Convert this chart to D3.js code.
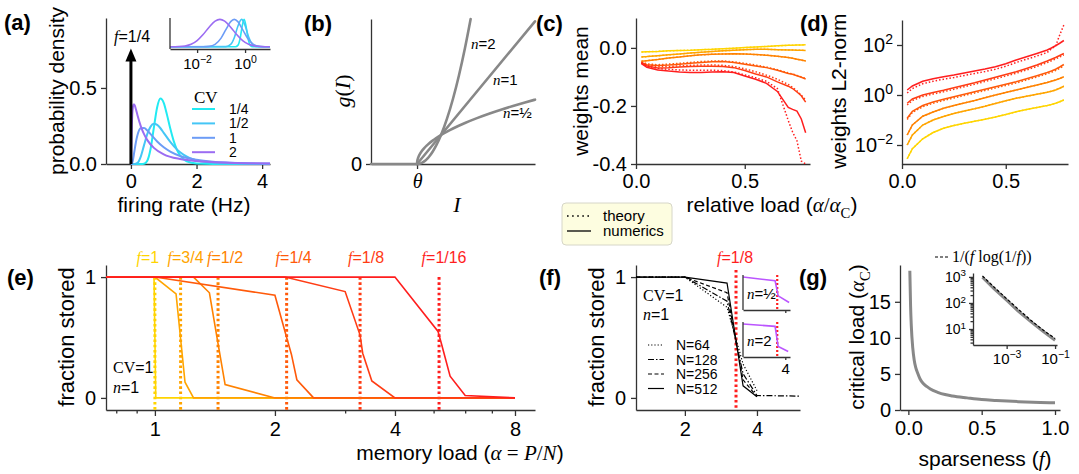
<!DOCTYPE html>
<html>
<head>
<meta charset="utf-8">
<script src="https://cdn.jsdelivr.net/npm/d3@7"></script>
<style>
body { margin: 0; background: #fff; }
svg { font-family: "Liberation Sans", Arial, Helvetica, sans-serif; }
</style>
</head>
<body>
<svg id="fig" width="1079" height="474"></svg>
<script>
var SANS = '"Liberation Sans", Arial, sans-serif',
    SERIF = '"Liberation Serif", "DejaVu Serif", serif';
var TICK = 20, LABEL = 21;

// ---- data ----
// (a) firing-rate densities, f=1/4, for CV = 1/4, 1/2, 1, 2
var cvLabels = ["1/4", "1/2", "1", "2"];
var cvColors = ["#22eaf2", "#45c6f6", "#6c9cf6", "#9b6cf2"];
var densQuarter = [[0,0],[0.3,0],[0.4,0.002],[0.5,0.022],[0.6,0.100],[0.7,0.240],[0.8,0.373],[0.9,0.430],[1.0,0.402],[1.1,0.323],[1.2,0.233],[1.3,0.154],[1.4,0.095],[1.5,0.056],[1.7,0.018],[2.0,0.003],[2.5,0],[4.24,0]];
var densHalf = [[0,0],[0.1,0],[0.2,0.007],[0.3,0.049],[0.4,0.124],[0.5,0.198],[0.6,0.246],[0.7,0.264],[0.8,0.257],[0.9,0.235],[1.0,0.205],[1.2,0.145],[1.4,0.096],[1.6,0.062],[1.8,0.039],[2.0,0.025],[2.5,0.008],[3.0,0.003],[4.0,0],[4.24,0]];
var densOne = [[0,0],[0.02,0.001],[0.05,0.015],[0.1,0.076],[0.15,0.141],[0.2,0.190],[0.3,0.235],[0.4,0.237],[0.5,0.220],[0.6,0.196],[0.8,0.148],[1.0,0.110],[1.2,0.082],[1.5,0.053],[2.0,0.028],[2.5,0.015],[3.0,0.009],[3.5,0.005],[4.24,0.003]];
var densTwo = [[0,0],[0.002,0.004],[0.005,0.030],[0.01,0.089],[0.02,0.196],[0.04,0.322],[0.06,0.374],[0.08,0.392],[0.1,0.392],[0.15,0.362],[0.2,0.321],[0.3,0.249],[0.4,0.196],[0.5,0.157],[0.7,0.106],[1.0,0.064],[1.5,0.033],[2.0,0.020],[3.0,0.009],[4.24,0.004]];
var deltaMass = 0.76; // arrow height for the mass at zero
// inset: log10(rate) vs scaled density
var insetQuarter = [[-3.13,0],[-0.4,0.004],[-0.3,0.052],[-0.2,0.326],[-0.12,0.756],[-0.04,1],[0.04,0.756],[0.12,0.326],[0.22,0.052],[0.32,0.004],[0.45,0],[1.04,0]];
var insetHalf = [[-3.13,0],[-0.8,0.006],[-0.6,0.086],[-0.45,0.331],[-0.3,0.752],[-0.145,1],[0,0.779],[0.15,0.356],[0.3,0.095],[0.45,0.015],[0.65,0.001],[1.04,0]];
var insetOne = [[-3.13,0],[-1.75,0.002],[-1.5,0.015],[-1.25,0.087],[-1.0,0.315],[-0.8,0.626],[-0.6,0.918],[-0.45,1],[-0.3,0.918],[-0.1,0.626],[0.1,0.315],[0.35,0.087],[0.6,0.015],[0.85,0.002],[1.04,0]];
var insetTwo = [[-3.13,0.001],[-2.75,0.009],[-2.5,0.031],[-2.25,0.093],[-2.0,0.226],[-1.75,0.446],[-1.5,0.716],[-1.25,0.936],[-1.05,1],[-0.85,0.936],[-0.6,0.716],[-0.35,0.446],[-0.1,0.226],[0.15,0.093],[0.4,0.031],[0.65,0.009],[1.04,0.001]];

// (b) transfer functions above threshold (input relative to theta)
var gFlat = [[-1.92,0],[0,0]];
var gLinear = [[0,0],[4.92,4.92]];
var gSquare = [[0,0],[0.1,0.01],[0.2,0.04],[0.3,0.09],[0.4,0.16],[0.5,0.25],[0.65,0.4225],[0.8,0.64],[1,1],[1.25,1.5625],[1.5,2.25],[1.75,3.0625],[2,4],[2.236,5]];
var gRoot = [[0,0],[0.01,0.1],[0.03,0.173],[0.06,0.245],[0.1,0.316],[0.15,0.387],[0.2,0.447],[0.3,0.548],[0.4,0.632],[0.5,0.707],[0.65,0.806],[0.8,0.894],[1,1],[1.25,1.118],[1.5,1.225],[2,1.414],[2.5,1.581],[3,1.732],[3.5,1.871],[4,2],[4.5,2.121],[4.92,2.218]];

// (c),(d) weights vs relative load, six sparseness levels
var fLabels = ["1", "3/4", "1/2", "1/4", "1/8", "1/16"];
var fColors = ["#ffd400", "#ffa500", "#ff8200", "#ff5a0a", "#ff3c14", "#ff1e1e"];
var relLoad = [0.025,0.05,0.1,0.15,0.2,0.25,0.3,0.35,0.4,0.45,0.5,0.55,0.6,0.65,0.7,0.72,0.74,0.76,0.78];
var meanF1   = [-0.014,-0.013,-0.012,-0.010,-0.009,-0.008,-0.006,-0.005,-0.003,-0.001,0.001,0.003,0.005,0.007,0.009,0.009,0.010,0.010,0.011];
var meanF34  = [-0.031,-0.030,-0.027,-0.024,-0.021,-0.018,-0.015,-0.012,-0.010,-0.008,-0.006,-0.005,-0.005,-0.006,-0.007,-0.007,-0.008,-0.008,-0.009];
var meanF12  = [-0.046,-0.044,-0.040,-0.035,-0.031,-0.027,-0.024,-0.022,-0.021,-0.020,-0.021,-0.023,-0.025,-0.029,-0.033,-0.036,-0.039,-0.042,-0.045];
var meanF14  = [-0.050,-0.058,-0.061,-0.059,-0.056,-0.053,-0.050,-0.048,-0.047,-0.050,-0.056,-0.062,-0.068,-0.077,-0.088,-0.091,-0.096,-0.101,-0.107];
var meanF18  = [-0.052,-0.062,-0.069,-0.068,-0.066,-0.064,-0.063,-0.063,-0.064,-0.068,-0.078,-0.090,-0.100,-0.117,-0.132,-0.140,-0.152,-0.165,-0.187];
var meanF116 = [-0.054,-0.067,-0.076,-0.080,-0.083,-0.085,-0.085,-0.083,-0.082,-0.085,-0.097,-0.108,-0.122,-0.150,-0.205,-0.212,-0.218,-0.245,-0.292];
var meanTh14  = [-0.048,-0.055,-0.058,-0.056,-0.053,-0.050,-0.047,-0.045,-0.045,-0.048,-0.053,-0.059,-0.066,-0.075,-0.086,-0.090,-0.095,-0.100,-0.106];
var meanTh18  = [-0.050,-0.059,-0.064,-0.064,-0.062,-0.060,-0.059,-0.059,-0.060,-0.064,-0.072,-0.082,-0.094,-0.108,-0.126,-0.136,-0.148,-0.163,-0.180];
var meanTh116 = [-0.052,-0.063,-0.071,-0.074,-0.076,-0.077,-0.077,-0.077,-0.078,-0.083,-0.093,-0.103,-0.115,-0.140,-0.250,-0.290,-0.320,-0.390,-0.400];
// log10 of L2 norm
var normF1   = [-2.55,-2.15,-1.75,-1.50,-1.33,-1.22,-1.13,-1.05,-0.97,-0.88,-0.78,-0.67,-0.58,-0.50,-0.42,-0.38,-0.33,-0.27,-0.20];
var normF34  = [-2.00,-1.60,-1.20,-1.00,-0.86,-0.74,-0.64,-0.55,-0.45,-0.34,-0.23,-0.13,-0.05,0.03,0.11,0.15,0.20,0.27,0.35];
var normF12  = [-1.60,-1.20,-0.85,-0.68,-0.53,-0.42,-0.32,-0.22,-0.11,0.00,0.10,0.20,0.30,0.40,0.50,0.55,0.60,0.66,0.73];
var normF14  = [-0.93,-0.65,-0.42,-0.28,-0.17,-0.07,0.03,0.13,0.23,0.33,0.43,0.53,0.65,0.77,0.90,0.96,1.03,1.12,1.22];
var normF18  = [-0.33,-0.16,0.00,0.10,0.19,0.29,0.39,0.49,0.60,0.71,0.82,0.93,1.06,1.20,1.36,1.43,1.50,1.58,1.66];
var normF116 = [0.20,0.36,0.55,0.65,0.73,0.80,0.88,0.96,1.04,1.13,1.25,1.40,1.53,1.66,1.80,1.88,1.97,2.07,2.18];
var normTh14  = [-0.98,-0.70,-0.47,-0.33,-0.22,-0.12,-0.02,0.08,0.18,0.28,0.38,0.48,0.60,0.72,0.85,0.91,0.98,1.07,1.17];
var normTh18  = [-0.40,-0.22,-0.06,0.04,0.13,0.23,0.33,0.43,0.54,0.65,0.76,0.87,1.00,1.14,1.30,1.37,1.44,1.52,1.60];
var normTh116 = [0.08,0.26,0.45,0.55,0.63,0.70,0.78,0.86,0.94,1.03,1.15,1.30,1.43,1.56,1.70,1.85,1.95,2.40,2.80];

// (e) fraction stored vs memory load
var storedF1   = [[0.754,1],[0.995,1],[1.005,0],[8,0]];
var storedF34  = [[0.754,1],[1.0,1],[1.13,0.86],[1.19,0.13],[1.25,0],[8,0]];
var storedF12  = [[0.754,1],[1.25,1],[1.37,0.87],[1.44,0.45],[1.5,0.11],[2.0,0],[8,0]];
var storedF14  = [[0.754,1],[1.0,1],[2.0,0.85],[2.14,0.5],[2.2,0.36],[2.27,0.15],[2.5,0],[8,0]];
var storedF18  = [[0.754,1],[2.12,1],[3.0,0.88],[3.27,0.52],[3.32,0.37],[3.5,0.14],[4.0,0],[8,0]];
var storedF116 = [[0.754,1],[4.0,1],[5.13,0.55],[5.24,0.44],[5.5,0.18],[6.0,0.02],[8,0]];
var alphaCrit = [1.0, 1.16, 1.44, 2.14, 3.27, 5.16];
var fLabelShift = [-7, 5, 7, 7, 6, 5];

// (f) network size, f = 1/8
var nLabels = ["N=64", "N=128", "N=256", "N=512"];
var storedN64  = [[1.25,1],[2,1],[3,0.75],[3.5,0.28],[4,0.06]];
var storedN128 = [[1.25,1],[2,1],[3,0.8],[3.5,0.2],[4,0.02],[6.05,0.015]];
var storedN256 = [[1.25,1],[2,1],[3,0.87],[3.5,0.15],[4,0.01]];
var storedN512 = [[1.25,1],[2,1],[3,0.95],[3.5,0.1],[4,0.01]];
var storedRoot   = [[1.39,1],[3.1,0.87],[3.35,0.35],[4.4,0.12]];
var storedSquare = [[1.39,1],[3.1,0.92],[3.35,0.22],[4.3,0.05]];

// (g) critical load vs sparseness
var sparseness = [0.01,0.015,0.02,0.03,0.04,0.05,0.0625,0.08,0.1,0.125,0.15,0.2,0.25,0.3,0.4,0.5,0.6,0.75,0.9,1.0];
var critLoad   = [19.3,14.5,11.7,8.6,6.9,5.9,5.16,4.3,3.7,3.27,2.9,2.45,2.14,1.95,1.68,1.44,1.32,1.16,1.05,1.0];
var sparseLog   = [1e-4,3e-4,1e-3,3e-3,1e-2,3e-2,1e-1];
var critLoadLog = [970,355,128,48.5,19.3,8.6,3.7];
var scalingLog  = [1086,410,145,58,21.7,9.5,4.34];

// ---- helpers ----
var svg = d3.select("#fig");

function rich(g, x, y, parts, opt) {
    opt = opt || {};
    var size = opt.size || LABEL;
    var t = g.append("text").attr("x", x).attr("y", y)
        .attr("text-anchor", opt.anchor || "start")
        .attr("fill", opt.color || "#000")
        .style("font-size", size + "px");
    if (opt.rotate) t.attr("transform", "rotate(-90," + x + "," + y + ")");
    var shift = 0;
    parts.forEach(function(p) {
        var s = t.append("tspan").text(p[0]);
        var k = p[1] || "";
        if (k.indexOf("i") >= 0) s.style("font-family", SERIF).style("font-style", "italic");
        if (k.indexOf("r") >= 0) s.style("font-family", SERIF);
        var want = k.indexOf("_") >= 0 ? 0.3 * size : (k.indexOf("^") >= 0 ? -0.45 * size : 0);
        if (want !== shift) { s.attr("dy", want - shift); shift = want; }
        if (want !== 0) s.style("font-size", (size * 0.7) + "px");
    });
    return t;
}

function styleAxis(g, size) {
    g.attr("font-family", null).attr("font-size", null);
    g.select(".domain").attr("stroke", "#333").attr("stroke-width", 1.3);
    g.selectAll(".tick line").attr("stroke", "#333").attr("stroke-width", 1.3);
    g.selectAll(".tick text").attr("fill", "#000")
        .style("font-size", (size || TICK) + "px").style("font-family", SANS);
}

function powLabels(g, size) {
    g.selectAll(".tick text").each(function(d) {
        var t = d3.select(this), e = Math.round(Math.log10(d));
        t.text(null);
        t.append("tspan").text("10");
        t.append("tspan").attr("dy", "-0.55em").style("font-size", (size * 0.7) + "px")
            .text(e < 0 ? "\u2212" + (-e) : e);
    });
}

function spine(g, x1, y1, x2, y2) {
    g.append("line").attr("x1", x1).attr("y1", y1).attr("x2", x2).attr("y2", y2)
        .attr("stroke", "#333").attr("stroke-width", 1.3);
}

var fmtInt = d3.format("d"), fmt1 = d3.format(".1f");

// panel letters
[["(a)", 4, 30], ["(b)", 304, 31], ["(c)", 536, 31], ["(d)", 800, 31],
 ["(e)", 7, 285], ["(f)", 539, 285], ["(g)", 799, 285]].forEach(function(p) {
    svg.append("text").attr("x", p[1]).attr("y", p[2]).style("font-size", "22px")
        .style("font-weight", "bold").text(p[0]);
});

// ---- (a) ----
var gA = svg.append("g");
var xA = d3.scaleLinear().domain([-0.76, 4.24]).range([106, 270]);
var yA = d3.scaleLinear().domain([0, 0.96]).range([164, 18]);
gA.append("g").attr("transform", "translate(0,164)")
    .call(d3.axisBottom(xA).tickValues([0, 2, 4]).tickFormat(fmtInt).tickSize(5).tickPadding(5).tickSizeOuter(0))
    .call(styleAxis);
gA.append("g").attr("transform", "translate(106,0)")
    .call(d3.axisLeft(yA).tickValues([0, 0.5]).tickFormat(fmt1).tickSize(5).tickPadding(4).tickSizeOuter(0))
    .call(styleAxis);
var lineA = d3.line().x(function(d) { return xA(d[0]); }).y(function(d) { return yA(d[1]); }).curve(d3.curveMonotoneX);
[densQuarter, densHalf, densOne, densTwo].forEach(function(s, i) {
    gA.append("path").attr("d", lineA(s)).attr("fill", "none")
        .attr("stroke", cvColors[i]).attr("stroke-width", 2);
});
gA.append("line").attr("x1", xA(0)).attr("x2", xA(0)).attr("y1", yA(0)).attr("y2", yA(deltaMass) + 12)
    .attr("stroke", "#000").attr("stroke-width", 3);
gA.append("path").attr("fill", "#000")
    .attr("d", "M" + (xA(0) - 5.5) + "," + (yA(deltaMass) + 13) + "L" + xA(0) + "," + yA(deltaMass) +
        "L" + (xA(0) + 5.5) + "," + (yA(deltaMass) + 13) + "Z");
rich(gA, 114, 42, [["f", "i"], ["=1/4"]], { size: 16 });
rich(gA, 64, 91, [["probability density"]], { rotate: true, anchor: "middle" });
rich(gA, 184, 212, [["firing rate (Hz)"]], { anchor: "middle" });
// legend
rich(gA, 194, 103, [["CV", "r"]], { size: 17 });
cvLabels.forEach(function(l, i) {
    var yy = 109 + i * 14.4;
    gA.append("line").attr("x1", 192).attr("x2", 215).attr("y1", yy).attr("y2", yy)
        .attr("stroke", cvColors[i]).attr("stroke-width", 2);
    gA.append("text").attr("x", 229).attr("y", yy + 5).style("font-size", "14px").text(l);
});
// inset
var xAi = d3.scaleLog().domain([Math.pow(10, -3.13), Math.pow(10, 1.04)]).range([170, 270]);
var yAi = d3.scaleLinear().domain([-0.08, 1.05]).range([49, 18]);
var lineAi = d3.line().x(function(d) { return xAi(Math.pow(10, d[0])); }).y(function(d) { return yAi(d[1]); }).curve(d3.curveMonotoneX);
[insetQuarter, insetHalf, insetOne, insetTwo].forEach(function(s, i) {
    gA.append("path").attr("d", lineAi(s)).attr("fill", "none")
        .attr("stroke", cvColors[i]).attr("stroke-width", 1.6);
});
gA.append("g").attr("transform", "translate(0,49)")
    .call(d3.axisBottom(xAi).tickValues([0.01, 1]).tickSize(4).tickPadding(5).tickSizeOuter(0))
    .call(styleAxis, 15).call(powLabels, 15);
spine(gA, 170, 18, 170, 49);

// ---- (b) ----
var gB = svg.append("g");
var xB = d3.scaleLinear().domain([-1.92, 4.92]).range([371, 535]);
var yB = d3.scaleLinear().domain([0, 5]).range([164, 19]);
var lineB = d3.line().x(function(d) { return xB(d[0]); }).y(function(d) { return yB(d[1]); }).curve(d3.curveMonotoneX);
gB.append("g").attr("transform", "translate(0,164)")
    .call(d3.axisBottom(xB).tickValues([0]).tickFormat(function() { return "\u03b8"; }).tickSize(5).tickPadding(5).tickSizeOuter(0))
    .call(styleAxis).selectAll(".tick text").style("font-family", SERIF).style("font-style", "italic");
gB.append("g").attr("transform", "translate(371,0)")
    .call(d3.axisLeft(yB).tickValues([0]).tickFormat(fmtInt).tickSize(5).tickPadding(4).tickSizeOuter(0))
    .call(styleAxis);
[gFlat, gRoot, gLinear, gSquare].forEach(function(s) {
    gB.append("path").attr("d", lineB(s)).attr("fill", "none")
        .attr("stroke", "#888").attr("stroke-width", 2.6).attr("stroke-linecap", "round");
});
rich(gB, 471, 49, [["n", "i"], ["=2"]], { size: 15 });
rich(gB, 493, 85, [["n", "i"], ["=1"]], { size: 15 });
rich(gB, 503, 118, [["n", "i"], ["=\u00bd"]], { size: 15 });
rich(gB, 350, 91, [["g", "i"], ["(", "r"], ["I", "i"], [")", "r"]], { rotate: true, anchor: "middle", size: 22 });
rich(gB, 457, 212, [["I", "i"]], { anchor: "middle", size: 22 });

// ---- (c) ----
var gC = svg.append("g");
var xC = d3.scaleLinear().domain([0, 0.8]).range([636, 810]);
var yC = d3.scaleLinear().domain([-0.4, 0.103]).range([164, 18]);
gC.append("g").attr("transform", "translate(0,164)")
    .call(d3.axisBottom(xC).tickValues([0, 0.5]).tickFormat(fmt1).tickSize(5).tickPadding(5).tickSizeOuter(0))
    .call(styleAxis);
gC.append("g").attr("transform", "translate(636,0)")
    .call(d3.axisLeft(yC).tickValues([0, -0.2, -0.4]).tickFormat(function(d) { return d.toFixed(1); }).tickSize(5).tickPadding(4).tickSizeOuter(0))
    .call(styleAxis);
var lineC = d3.line().x(function(d, i) { return xC(relLoad[i]); }).y(function(d) { return yC(d); });
var meanNum = [meanF1, meanF34, meanF12, meanF14, meanF18, meanF116];
var meanTh = [meanF1, meanF34, meanF12, meanTh14, meanTh18, meanTh116];
meanNum.forEach(function(s, i) {
    gC.append("path").attr("d", lineC(s)).attr("fill", "none").attr("stroke", fColors[i]).attr("stroke-width", 1.5);
    gC.append("path").attr("d", lineC(meanTh[i])).attr("fill", "none").attr("stroke", fColors[i])
        .attr("stroke-width", 1.5).attr("stroke-dasharray", "1.5,2");
});
rich(gC, 588, 91, [["weights mean"]], { rotate: true, anchor: "middle" });
rich(gC, 772, 212, [["relative load ("], ["\u03b1", "i"], ["/", "r"], ["\u03b1", "i"], ["C", "r_"], [")"]], { anchor: "middle" });

// legend theory / numerics
var gL = svg.append("g");
gL.append("rect").attr("x", 562).attr("y", 203).attr("width", 110).attr("height", 42).attr("rx", 4)
    .attr("fill", "#fdfde0").attr("stroke", "#d6d6c8");
gL.append("line").attr("x1", 567).attr("x2", 591).attr("y1", 216).attr("y2", 216)
    .attr("stroke", "#000").attr("stroke-width", 1.6).attr("stroke-dasharray", "1.6,3.5");
gL.append("line").attr("x1", 567).attr("x2", 591).attr("y1", 231).attr("y2", 231)
    .attr("stroke", "#000").attr("stroke-width", 1.3);
gL.append("text").attr("x", 603).attr("y", 221).style("font-size", "15px").text("theory");
gL.append("text").attr("x", 603).attr("y", 236).style("font-size", "15px").text("numerics");

// ---- (d) ----
var gD = svg.append("g");
var xD = d3.scaleLinear().domain([0, 0.8]).range([902, 1068]);
var yD = d3.scaleLog().domain([Math.pow(10, -2.76), 1000]).range([164, 20]);
gD.append("g").attr("transform", "translate(0,164)")
    .call(d3.axisBottom(xD).tickValues([0, 0.5]).tickFormat(fmt1).tickSize(5).tickPadding(5).tickSizeOuter(0))
    .call(styleAxis);
gD.append("g").attr("transform", "translate(902,0)")
    .call(d3.axisLeft(yD).tickValues([0.01, 1, 100]).tickSize(5).tickPadding(4).tickSizeOuter(0))
    .call(styleAxis).call(powLabels, TICK);
var lineD = d3.line().x(function(d, i) { return xD(relLoad[i]); }).y(function(d) { return yD(Math.pow(10, d)); });
var normNum = [normF1, normF34, normF12, normF14, normF18, normF116];
var normTh = [normF1, normF34, normF12, normTh14, normTh18, normTh116];
normNum.forEach(function(s, i) {
    gD.append("path").attr("d", lineD(s)).attr("fill", "none").attr("stroke", fColors[i]).attr("stroke-width", 1.5);
    gD.append("path").attr("d", lineD(normTh[i])).attr("fill", "none").attr("stroke", fColors[i])
        .attr("stroke-width", 1.5).attr("stroke-dasharray", "1.5,2");
});
rich(gD, 846, 91, [["weights L2-norm"]], { rotate: true, anchor: "middle" });

// ---- (e) ----
var gE = svg.append("g");
var xE = d3.scaleLog().base(2).domain([0.754, 8.98]).range([106, 535]);
var yE = d3.scaleLinear().domain([-0.1, 1.1]).range([410, 265]);
gE.append("g").attr("transform", "translate(0,410)")
    .call(d3.axisBottom(xE).tickValues([1, 2, 4, 8]).tickFormat(fmtInt).tickSize(6).tickPadding(6).tickSizeOuter(0))
    .call(styleAxis);
gE.append("g").attr("transform", "translate(0,410)")
    .call(d3.axisBottom(xE).tickValues([0.8, 0.9, 3, 5, 6, 7]).tickFormat("").tickSize(3.5).tickSizeOuter(0))
    .call(styleAxis).select(".domain").remove();
gE.append("g").attr("transform", "translate(106,0)")
    .call(d3.axisLeft(yE).tickValues([0, 1]).tickFormat(fmtInt).tickSize(5).tickPadding(5).tickSizeOuter(0))
    .call(styleAxis);
alphaCrit.forEach(function(a, i) {
    gE.append("line").attr("x1", xE(a)).attr("x2", xE(a)).attr("y1", yE(1)).attr("y2", yE(-0.1))
        .attr("stroke", fColors[i]).attr("stroke-width", 3).attr("stroke-dasharray", "2.6,2.6");
    rich(gE, xE(a) + fLabelShift[i], 263, [["f", "i"], ["=" + fLabels[i]]], { anchor: "middle", size: 16, color: fColors[i] });
});
var lineE = d3.line().x(function(d) { return xE(d[0]); }).y(function(d) { return yE(d[1]); });
[storedF1, storedF34, storedF12, storedF14, storedF18, storedF116].forEach(function(s, i) {
    gE.append("path").attr("d", lineE(s)).attr("fill", "none").attr("stroke", fColors[i]).attr("stroke-width", 1.6);
});
rich(gE, 113, 373, [["CV", "r"], ["=1"]], { size: 16 });
rich(gE, 113, 393, [["n", "i"], ["=1"]], { size: 16 });
rich(gE, 74, 337, [["fraction stored"]], { rotate: true, anchor: "middle", size: 22 });
rich(gE, 460, 460, [["memory load ("], ["\u03b1", "i"], [" = ", "r"], ["P", "i"], ["/", "r"], ["N", "i"], [")"]], { anchor: "middle" });

// ---- (f) ----
var gF = svg.append("g");
var xF = d3.scaleLog().base(2).domain([1.25, 6.05]).range([636, 800]);
var yF = d3.scaleLinear().domain([-0.1, 1.1]).range([410, 265]);
gF.append("g").attr("transform", "translate(0,410)")
    .call(d3.axisBottom(xF).tickValues([2, 4]).tickFormat(fmtInt).tickSize(6).tickPadding(6).tickSizeOuter(0))
    .call(styleAxis);
gF.append("g").attr("transform", "translate(636,0)")
    .call(d3.axisLeft(yF).tickValues([0, 1]).tickFormat(fmtInt).tickSize(5).tickPadding(5).tickSizeOuter(0))
    .call(styleAxis);
gF.append("line").attr("x1", xF(alphaCrit[4])).attr("x2", xF(alphaCrit[4])).attr("y1", 270).attr("y2", 410)
    .attr("stroke", "#ff1e1e").attr("stroke-width", 3).attr("stroke-dasharray", "2.6,2.6");
rich(gF, xF(alphaCrit[4]) - 1, 263, [["f", "i"], ["=1/8"]], { anchor: "middle", size: 16, color: "#ff1e1e" });
var nDash = ["1.2,2", "6,2,1.5,2", "4,2.5", null];
var lineF = d3.line().x(function(d) { return xF(d[0]); }).y(function(d) { return yF(d[1]); });
[storedN64, storedN128, storedN256, storedN512].forEach(function(s, i) {
    gF.append("path").attr("d", lineF(s)).attr("fill", "none").attr("stroke", "#000")
        .attr("stroke-width", 1.2).attr("stroke-dasharray", nDash[i]);
});
rich(gF, 643, 301, [["CV", "r"], ["=1"]], { size: 16 });
rich(gF, 643, 320, [["n", "i"], ["=1"]], { size: 16 });
nLabels.forEach(function(l, i) {
    var yy = 345 + i * 14.5;
    gF.append("line").attr("x1", 648).attr("x2", 664).attr("y1", yy).attr("y2", yy)
        .attr("stroke", "#000").attr("stroke-width", 1.2).attr("stroke-dasharray", nDash[i]);
    gF.append("text").attr("x", 676).attr("y", yy + 5).style("font-size", "14px").text(l);
});
rich(gF, 604, 337, [["fraction stored"]], { rotate: true, anchor: "middle", size: 22 });
// small insets for n=1/2 and n=2
[[275, 310, storedRoot, "\u00bd"], [322, 357, storedSquare, "2"]].forEach(function(ins, k) {
    var xI = d3.scaleLog().base(2).domain([1.39, 4.5]).range([743, 790]);
    var yI = d3.scaleLinear().domain([-0.14, 1.07]).range([ins[1], ins[0]]);
    gF.append("rect").attr("x", 743).attr("y", ins[0]).attr("width", 47).attr("height", ins[1] - ins[0]).attr("fill", "#fff");
    gF.append("line").attr("x1", xI(alphaCrit[4])).attr("x2", xI(alphaCrit[4])).attr("y1", ins[0]).attr("y2", ins[1])
        .attr("stroke", "#ff1e1e").attr("stroke-width", 2.2).attr("stroke-dasharray", "2,2");
    var lI = d3.line().x(function(d) { return xI(d[0]); }).y(function(d) { return yI(d[1]); });
    gF.append("path").attr("d", lI(ins[2])).attr("fill", "none").attr("stroke", "#bb55ff").attr("stroke-width", 1.6);
    gF.append("g").attr("transform", "translate(0," + ins[1] + ")")
        .call(d3.axisBottom(xI).tickValues([4]).tickFormat(k === 1 ? fmtInt : "").tickSize(3).tickPadding(3).tickSizeOuter(0))
        .call(styleAxis, 15);
    spine(gF, 743, ins[0], 743, ins[1]);
    rich(gF, 747, ins[0] + 24, [["n", "i"], ["=" + ins[3]]], { size: 15 });
});

// ---- (g) ----
var gG = svg.append("g");
var xG = d3.scaleLinear().domain([-0.057, 1.034]).range([900, 1060]);
var yG = d3.scaleLinear().domain([0, 20.1]).range([410, 265]);
gG.append("g").attr("transform", "translate(0,410)")
    .call(d3.axisBottom(xG).tickValues([0, 0.5, 1]).tickFormat(fmt1).tickSize(5).tickPadding(6).tickSizeOuter(0))
    .call(styleAxis);
gG.append("g").attr("transform", "translate(900,0)")
    .call(d3.axisLeft(yG).tickValues([0, 5, 10, 15]).tickFormat(fmtInt).tickSize(5).tickPadding(4).tickSizeOuter(0))
    .call(styleAxis);
var lineG = d3.line().x(function(d, i) { return xG(sparseness[i]); }).y(function(d) { return yG(d); }).curve(d3.curveMonotoneX);
gG.append("path").attr("d", lineG(critLoad)).attr("fill", "none").attr("stroke", "#888").attr("stroke-width", 3);
rich(gG, 864, 337, [["critical load ("], ["\u03b1", "i"], ["C", "r_"], [")"]], { rotate: true, anchor: "middle" });
rich(gG, 985, 466, [["sparseness ("], ["f", "i"], [")"]], { anchor: "middle" });
// inset
var xGi = d3.scaleLog().domain([Math.pow(10, -4.39), Math.pow(10, -0.92)]).range([973, 1057]);
var yGi = d3.scaleLog().domain([Math.pow(10, 0.385), Math.pow(10, 3.15)]).range([345, 273]);
var lineGi = d3.line().x(function(d, i) { return xGi(sparseLog[i]); }).y(function(d) { return yGi(d); });
var gGi = gG.append("g");
gGi.append("path").attr("d", lineGi(critLoadLog)).attr("fill", "none").attr("stroke", "#888").attr("stroke-width", 3);
gGi.append("path").attr("d", lineGi(scalingLog)).attr("fill", "none").attr("stroke", "#000")
    .attr("stroke-width", 1.2).attr("stroke-dasharray", "3,2");
gGi.append("g").attr("transform", "translate(0,345)")
    .call(d3.axisBottom(xGi).tickValues([1e-3, 1e-1]).tickSize(4).tickPadding(4).tickSizeOuter(0))
    .call(styleAxis, 15).call(powLabels, 15);
gGi.append("g").attr("transform", "translate(973,0)")
    .call(d3.axisLeft(yGi).tickValues([10, 100, 1000]).tickSize(4).tickPadding(3).tickSizeOuter(0))
    .call(styleAxis, 14).call(powLabels, 14);
var minorY = [3,4,5,6,7,8,9,20,30,40,50,60,70,80,90,200,300,400,500,600,700,800,900];
gGi.append("g").attr("transform", "translate(973,0)")
    .call(d3.axisLeft(yGi).tickValues(minorY).tickFormat("").tickSize(2.5).tickSizeOuter(0))
    .call(styleAxis).select(".domain").remove();
gGi.append("line").attr("x1", 935).attr("x2", 948).attr("y1", 257).attr("y2", 257)
    .attr("stroke", "#000").attr("stroke-width", 1.2).attr("stroke-dasharray", "3,2");
rich(gGi, 952, 262, [["1/(", "r"], ["f", "i"], [" log(1/", "r"], ["f", "i"], ["))", "r"]], { size: 16 });
</script>
</body>
</html>
